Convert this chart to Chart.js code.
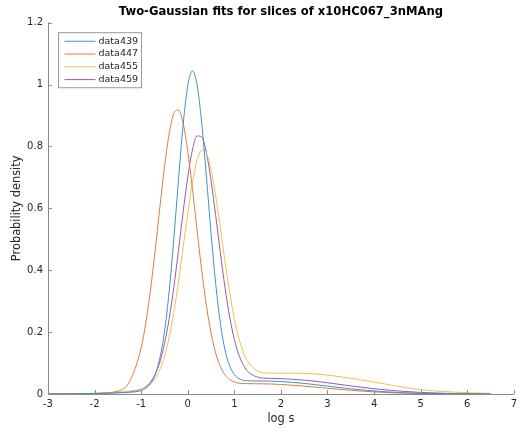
<!DOCTYPE html>
<html>
<head>
<meta charset="utf-8">
<script src="https://cdn.jsdelivr.net/npm/chart.js@4.4.0/dist/chart.umd.min.js"></script>
<style>
  html, body { margin: 0; padding: 0; background: #fff; }
  canvas { display: block; }
</style>
</head>
<body>
<canvas id="fitChart" width="521" height="432"></canvas>
<script>
// --- Values ---
const logS = [-3, -2.5, -2, -1.5, -1.25, -1, -0.9, -0.8, -0.7, -0.6, -0.5, -0.4, -0.3, -0.2, -0.1,
  0, 0.1, 0.2, 0.3, 0.4, 0.5, 0.6, 0.7, 0.8, 0.9, 1, 1.1, 1.25, 1.5, 1.75, 2, 2.5, 3, 3.5, 4, 4.5, 5, 5.5, 6, 6.5];

const data439 = [0.0002, 0.0006, 0.0015, 0.0036, 0.0055, 0.011, 0.019, 0.034, 0.062, 0.115, 0.2, 0.33, 0.5, 0.69, 0.869,
  0.996, 1.044, 1.0, 0.876, 0.704, 0.52, 0.357, 0.229, 0.143, 0.091, 0.063, 0.0497, 0.043, 0.042, 0.0418, 0.0403, 0.0342, 0.0255, 0.0167, 0.0097, 0.0049, 0.0022, 0.0009, 0.0003, 0.0001];

const data447 = [0.0002, 0.0006, 0.0015, 0.0092, 0.040, 0.149, 0.230, 0.336, 0.463, 0.601, 0.733, 0.840, 0.906, 0.918, 0.876,
  0.786, 0.664, 0.529, 0.399, 0.286, 0.197, 0.132, 0.089, 0.062, 0.047, 0.039, 0.035, 0.0335, 0.033, 0.0325, 0.031, 0.0256, 0.0186, 0.0119, 0.0067, 0.0033, 0.0015, 0.0006, 0.0002, 0.0001];

const data455 = [0.0003, 0.0008, 0.002, 0.0064, 0.0092, 0.0158, 0.0219, 0.0323, 0.050, 0.078, 0.121, 0.182, 0.263, 0.362, 0.473,
  0.584, 0.684, 0.755, 0.788, 0.778, 0.725, 0.640, 0.536, 0.428, 0.328, 0.243, 0.178, 0.116, 0.0745, 0.0674, 0.0675, 0.0669, 0.0609, 0.0508, 0.0388, 0.025, 0.014, 0.008, 0.004, 0.002];

const data459 = [0.0003, 0.0008, 0.002, 0.0045, 0.0071, 0.0154, 0.024, 0.0386, 0.064, 0.103, 0.162, 0.242, 0.344, 0.463, 0.587,
  0.701, 0.788, 0.834, 0.831, 0.780, 0.690, 0.577, 0.456, 0.344, 0.249, 0.177, 0.125, 0.080, 0.0547, 0.0506, 0.0496, 0.0448, 0.0363, 0.0263, 0.017, 0.0099, 0.0051, 0.0024, 0.001, 0.0004];

const seriesNames = ['data439', 'data447', 'data455', 'data459'];
const seriesValues = [data439, data447, data455, data459];
const seriesColors = ['#3f93c6', '#de7a48', '#f0c24a', '#9a5aa6'];

const xTicks = [-3, -2, -1, 0, 1, 2, 3, 4, 5, 6, 7];
const yTicks = [0, 0.2, 0.4, 0.6, 0.8, 1, 1.2];

const FONT = 'DejaVu Sans';
const TEXT = '#262626';
const AXIS = '#8a8a8a';

// --- MATLAB look: inward ticks + legend box inside the axes ---
const matlabAxes = {
  id: 'matlabAxes',
  afterDatasetsDraw(chart) {
    const c = chart.ctx;
    const xs = chart.scales.x, ys = chart.scales.y;
    const area = chart.chartArea;
    c.save();
    c.strokeStyle = AXIS;
    c.lineWidth = 1;
    c.beginPath();
    xTicks.forEach(v => {
      const px = Math.round(xs.getPixelForValue(v)) + 0.5;
      c.moveTo(px, area.bottom);
      c.lineTo(px, area.bottom - 4);
    });
    yTicks.forEach(v => {
      const py = Math.round(ys.getPixelForValue(v)) + 0.5;
      c.moveTo(area.left, py);
      c.lineTo(area.left + 4, py);
    });
    c.stroke();

    // legend
    const bx = area.left + 10.5, by = area.top + 10, bw = 83, bh = 55;
    c.fillStyle = '#fff';
    c.fillRect(bx, by, bw, bh);
    c.strokeStyle = '#9a9a9a';
    c.strokeRect(bx, by, bw, bh);
    c.font = '9.5px ' + FONT;
    c.textBaseline = 'middle';
    seriesNames.forEach((name, i) => {
      const ry = by + 8.5 + i * 12.8;
      c.strokeStyle = seriesColors[i];
      c.beginPath();
      c.moveTo(bx + 6, ry);
      c.lineTo(bx + 37, ry);
      c.stroke();
      c.fillStyle = TEXT;
      c.fillText(name, bx + 40, ry);
    });
    c.restore();
  }
};

const datasets = seriesNames.map((name, i) => ({
  label: name,
  data: logS.map((x, j) => ({ x: x, y: seriesValues[i][j] })),
  borderColor: seriesColors[i],
  borderWidth: 1,
  pointRadius: 0,
  fill: false,
  cubicInterpolationMode: 'monotone'
}));

new Chart(document.getElementById('fitChart'), {
  type: 'line',
  data: { datasets },
  plugins: [matlabAxes],
  options: {
    responsive: false,
    animation: false,
    devicePixelRatio: 1,
    layout: { padding: { left: 0, right: 4, top: 0, bottom: 0 } },
    plugins: {
      legend: { display: false },
      tooltip: { enabled: false },
      title: {
        display: true,
        fullSize: false,
        text: 'Two-Gaussian fits for slices of x10HC067_3nMAng',
        color: '#000',
        font: { family: FONT, size: 11.6, weight: 'bold' },
        padding: { top: 5.5, bottom: 3.3 }
      }
    },
    scales: {
      x: {
        type: 'linear',
        min: -3,
        max: 7,
        afterBuildTicks: s => { s.ticks = xTicks.map(v => ({ value: v })); },
        afterFit: s => { s.height = 38; },
        ticks: { color: TEXT, font: { family: FONT, size: 10 }, padding: 4, callback: v => String(v) },
        grid: { drawOnChartArea: false, drawTicks: false },
        border: { color: AXIS },
        title: { display: true, text: 'log s', color: TEXT, font: { family: FONT, size: 11.4 }, padding: { top: 0, bottom: 6 } }
      },
      y: {
        min: 0,
        max: 1.2,
        afterBuildTicks: s => { s.ticks = yTicks.map(v => ({ value: v })); },
        afterFit: s => { s.width = 48; },
        ticks: { color: TEXT, font: { family: FONT, size: 10 }, padding: 5, callback: v => String(+v.toFixed(1)) },
        grid: { drawOnChartArea: false, drawTicks: false },
        border: { color: AXIS },
        title: { display: true, text: 'Probability density', color: TEXT, font: { family: FONT, size: 11.4 }, padding: { top: 10, bottom: 0 } }
      }
    }
  }
});
</script>
</body>
</html>
